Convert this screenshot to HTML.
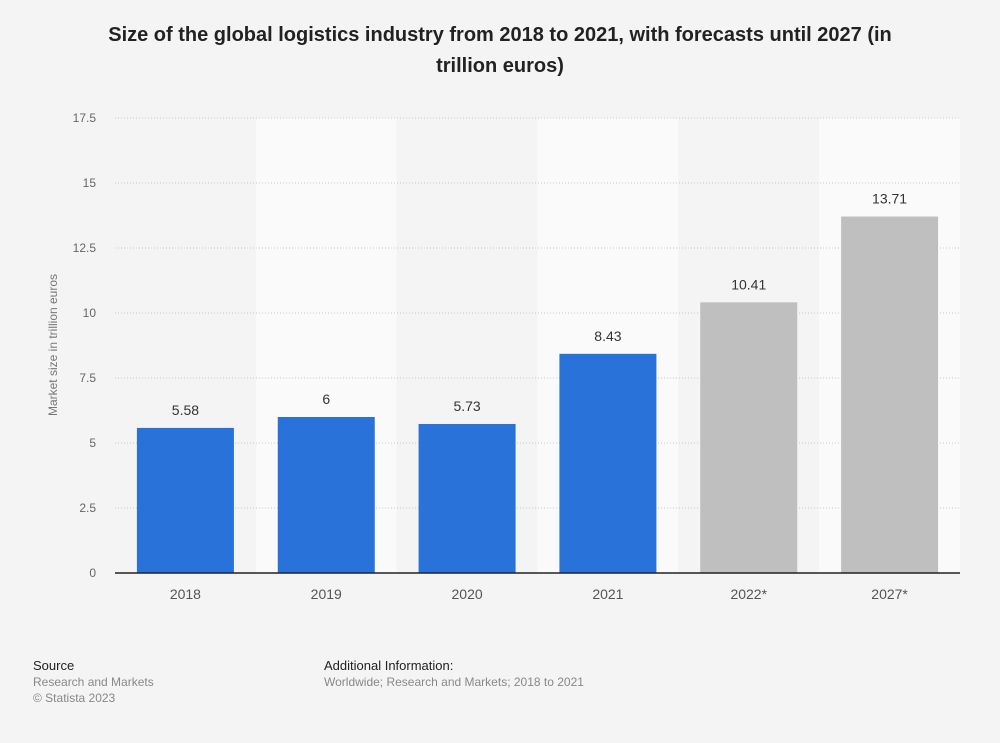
<!DOCTYPE html>
<html><head><meta charset="utf-8"><style>
body{margin:0;background:#f4f4f4;font-family:"Liberation Sans",Arial,sans-serif}
#wrap{position:relative;width:1000px;height:743px;background:#f4f4f4}
.title{position:absolute;left:80px;top:20px;width:840px;text-align:center;font-weight:bold;font-size:20px;line-height:31px;color:#222}
.foot{position:absolute;font-size:12px;color:#888;line-height:16px}
.foot b{font-weight:normal;color:#222;font-size:13px}
</style></head><body>
<div id="wrap">
<div class="title">Size of the global logistics industry from 2018 to 2021, with forecasts until 2027 (in trillion euros)</div>
<svg id="chart" width="1000" height="743" style="position:absolute;left:0;top:0"></svg>
<div class="foot" style="left:33px;top:658px"><b>Source</b><br>Research and Markets<br>© Statista 2023</div>
<div class="foot" style="left:324px;top:658px"><b>Additional Information:</b><br>Worldwide; Research and Markets; 2018 to 2021</div>
</div>
<script>
const categories=["2018","2019","2020","2021","2022*","2027*"];
const values=[5.58,6,5.73,8.43,10.41,13.71];
const forecast=[false,false,false,false,true,true];
const valueLabels=["5.58","6","5.73","8.43","10.41","13.71"];
const ticks=[0,2.5,5,7.5,10,12.5,15,17.5];
const tickLabels=["0","2.5","5","7.5","10","12.5","15","17.5"];
const NS="http://www.w3.org/2000/svg";
const svg=document.getElementById('chart');
const L=115,R=960,T=118,B=573,YMAX=17.5;
const bw=(R-L)/categories.length;
const y=v=>B-(v/YMAX)*(B-T);
const x=i=>L+i*bw;
function mk(tag,attrs){const e=document.createElementNS(NS,tag);for(const k in attrs)e.setAttribute(k,attrs[k]);svg.appendChild(e);return e;}
categories.forEach((c,i)=>{if(i%2===1){const r=mk('rect',{x:x(i),y:T,width:bw,height:B-T,fill:'#fafafa'});

}});
ticks.forEach((t,i)=>{
 if(t>0){const g=mk('line',{x1:L,x2:R,y1:y(t),y2:y(t),stroke:'#c8c8c8','stroke-dasharray':'1,2'});
 
 }
 const tx=mk('text',{x:96,y:y(t)+4,'text-anchor':'end','font-size':12,fill:'#666'});tx.textContent=tickLabels[i];
 
 
});
categories.forEach((c,i)=>{
 const w=97,cx=x(i)+bw/2;
 const r=mk('rect',{x:cx-w/2,y:y(values[i]),width:w,height:B-y(values[i]),fill:forecast[i]?'#bfbfbf':'#2872d9'});
 
 
 const vl=mk('text',{x:cx,y:y(values[i])-13,'text-anchor':'middle','font-size':14,fill:'#333'});vl.textContent=valueLabels[i];
 
 
 const xl=mk('text',{x:cx,y:599,'text-anchor':'middle','font-size':14,fill:'#555'});xl.textContent=c;
 
 
});
const ax=mk('line',{x1:L,x2:R,y1:B,y2:B,stroke:'#222','stroke-width':1.5});


const yt=mk('text',{x:0,y:0,'text-anchor':'middle','font-size':12,fill:'#777',transform:'translate(57,345) rotate(-90)'});
yt.textContent='Market size in trillion euros';


</script>
</body></html>
